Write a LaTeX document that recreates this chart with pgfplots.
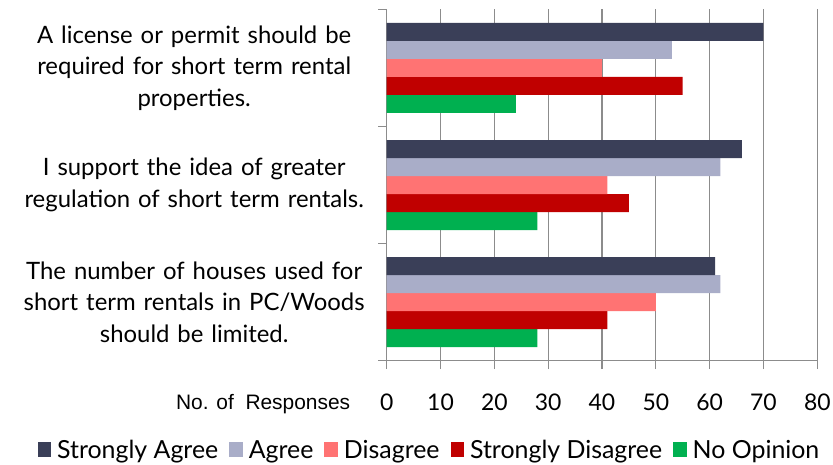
\documentclass[border=0pt]{standalone}
\usepackage{fontspec}
\setmainfont{Lato}
\newfontfamily\arialfont{Liberation Sans}
\usepackage{pgfplots}
\pgfplotsset{compat=1.18}

\definecolor{cSA}{HTML}{3A3F58}
\definecolor{cAG}{HTML}{A9ADC8}
\definecolor{cDI}{HTML}{FF7373}
\definecolor{cSD}{HTML}{C00000}
\definecolor{cNO}{HTML}{00B050}
\definecolor{gridgray}{HTML}{8C8C8C}

% y: 2 = top statement, 0 = bottom statement
\pgfplotstableread{
y  sa  ag  di  sd  no
2  70  53  40  55  24
1  66  62  41  45  28
0  61  62  50  41  28
}\responses

\begin{document}
\begin{tikzpicture}
\begin{axis}[
    at={(0,0)}, anchor=south west,
    scale only axis,
    width=430.6bp, height=351.4bp,
    xbar=0pt, bar width=18bp,
    xmin=0, xmax=80, ymin=-0.5, ymax=2.5,
    axis lines*=left,
    axis line style={-, draw=gridgray, line width=1.3bp},
    tick align=outside,
    tick style={draw=gridgray, line width=1.3bp},
    major tick length=8.5bp,
    xtick={0,10,...,80},
    xmajorgrids,
    major grid style={draw=gridgray, line width=1.3bp},
    /pgf/number format/assume math mode=true,
    xticklabel style={font=\fontsize{23}{27}\selectfont, anchor=center, yshift=-33bp},
    ytick={-0.5,0.5,1.5,2.5},
    yticklabels={},
    extra y ticks={0,1,2},
    extra y tick labels={
        {The number of houses used for\\short term rentals in PC/Woods\\should be limited.},
        {I support the idea of greater\\regulation of short term rentals.},
        {A license or permit should be\\required for short term rental\\properties.}},
    extra y tick style={
        major tick length=0pt,
        yticklabel style={font=\fontsize{24}{31.5}\selectfont, text width=360bp,
            align=center, anchor=east, xshift=-9bp}},
    legend columns=5,
    reverse legend,
    legend style={
        at={(0.0994,-0.254)}, anchor=center,
        draw=none, fill=none,
        font=\fontsize{25}{28}\selectfont,
        /tikz/every odd column/.append style={column sep=4bp},
        /tikz/every even column/.append style={column sep=9bp},
    },
    legend image code/.code={\fill[#1,draw=none] (0bp,-7bp) rectangle (13.5bp,7.5bp);},
]
\addplot[fill=cNO, draw=none] table[x=no, y=y] {\responses};
\addlegendentry{No Opinion}
\addplot[fill=cSD, draw=none] table[x=sd, y=y] {\responses};
\addlegendentry{Strongly Disagree}
\addplot[fill=cDI, draw=none] table[x=di, y=y] {\responses};
\addlegendentry{Disagree}
\addplot[fill=cAG, draw=none] table[x=ag, y=y] {\responses};
\addlegendentry{Agree}
\addplot[fill=cSA, draw=none] table[x=sa, y=y] {\responses};
\addlegendentry{Strongly Agree}
\end{axis}
\node[anchor=base east, font=\arialfont\fontsize{21}{25}\selectfont]
    at (-33bp,-49bp) {No. of\ \ Responses};
\pgfresetboundingbox
\useasboundingbox (-386.7bp,-104.3bp) rectangle (446.3bp,360.7bp);
\end{tikzpicture}
\end{document}
